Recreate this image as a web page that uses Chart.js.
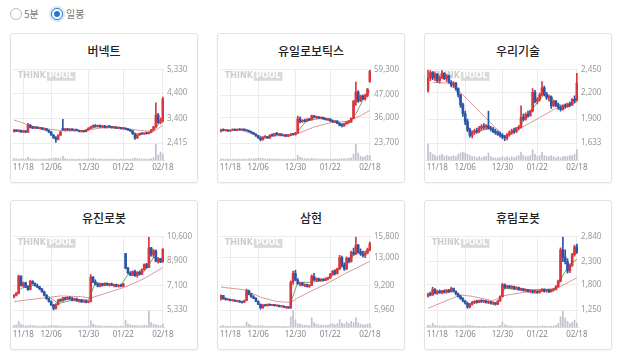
<!DOCTYPE html>
<html>
<head>
<meta charset="utf-8">
<script src="https://cdn.jsdelivr.net/npm/chart.js@4"></script>
<style>
  body { margin:0; width:618px; height:355px; background:#fff; position:relative; overflow:hidden;
         font-family:"Noto Sans CJK KR","Noto Sans",sans-serif; }
  .rd { position:absolute; top:8px; width:10px; height:10px; border-radius:50%; border:1px solid #bdbdbd; background:#fff; }
  .rd.on { border-color:#2a76d2; box-shadow:0 0 0 2px rgba(42,118,210,0.18); }
  .rd.on::after { content:""; position:absolute; left:2px; top:2px; width:6px; height:6px; border-radius:50%; background:#2a76d2; }
  .rl { position:absolute; top:6px; font-size:10px; line-height:16px; color:#777; }
  .card { position:absolute; width:186px; height:148px; border:1px solid #e2e2e2; border-radius:3px;
          box-shadow:0 1px 2px rgba(0,0,0,0.05); background:#fff; }
  .card h3 { position:absolute; top:9px; left:0; width:100%; margin:0; text-align:center;
             font-size:12px; line-height:16px; font-weight:500; color:#222; }
  .card canvas { position:absolute; left:0; top:28px; }
</style>
</head>
<body>
<div class="rd" style="left:10px"></div><div class="rl" style="left:24px">5분</div>
<div class="rd on" style="left:51px"></div><div class="rl" style="left:66px">일봉</div>

<div class="card" style="left:10px;top:33px"><h3>버넥트</h3><canvas id="c1" width="186" height="118"></canvas></div>
<div class="card" style="left:217px;top:33px"><h3>유일로보틱스</h3><canvas id="c2" width="186" height="118"></canvas></div>
<div class="card" style="left:424px;top:33px"><h3>우리기술</h3><canvas id="c3" width="186" height="118"></canvas></div>
<div class="card" style="left:10px;top:200px"><h3>유진로봇</h3><canvas id="c4" width="186" height="118"></canvas></div>
<div class="card" style="left:217px;top:200px"><h3>삼현</h3><canvas id="c5" width="186" height="118"></canvas></div>
<div class="card" style="left:424px;top:200px"><h3>휴림로봇</h3><canvas id="c6" width="186" height="118"></canvas></div>

<script>
// x axis: 65 trading days, dates shown at a few of them
const tickDates = ['11/18', '12/06', '12/30', '01/22', '02/18'];
const tickIndex = [4, 16, 32, 47, 64];
const dayCount = 65;

// candles: [open, high, low, close]
const vnCandles = [
  [2880,2960,2850,2930],[2930,2950,2870,2890],[2890,2940,2860,2920],[2920,2930,2840,2860],[2860,2920,2840,2900],
  [2900,2910,2830,2850],[2850,3200,2840,3130],[3130,3150,3020,3050],[3050,3080,2990,3010],[3010,3070,3000,3050],
  [3050,3060,2990,3000],[3000,3040,2980,3020],[3020,3030,2950,2970],[2970,3000,2930,2980],[2980,2990,2900,2920],
  [2920,2940,2830,2850],[2850,2870,2720,2740],[2740,2760,2600,2620],[2620,2680,2440,2560],[2560,2760,2540,2730],
  [2730,2880,2720,2860],[3000,3360,2920,2940],[2940,2990,2900,2960],[2960,3000,2920,2940],[2940,2980,2900,2970],
  [2970,2990,2920,2930],[2930,2960,2890,2950],[2950,2970,2900,2910],[2910,2930,2860,2880],[2880,2920,2850,2900],
  [2900,2910,2850,2870],[2870,2950,2860,2940],[2940,3020,2930,3010],[3010,3080,2990,3060],[3060,3140,3040,3120],
  [3120,3150,3060,3080],[3080,3130,3050,3110],[3110,3140,3040,3060],[3060,3110,3030,3090],[3090,3120,3020,3040],
  [3040,3100,3020,3080],[3080,3110,3040,3060],[3060,3080,3010,3030],[3030,3070,3000,3050],[3050,3060,2990,3010],
  [3010,3050,2990,3030],[3030,3040,2970,2990],[2990,3030,2960,3000],[3000,3010,2950,2970],[2970,2990,2920,2940],
  [2940,2960,2880,2900],[2900,2910,2760,2790],[2790,2800,2560,2620],[2620,2760,2600,2740],[2740,2820,2720,2800],
  [2800,2840,2760,2780],[2780,2830,2760,2810],[2810,2850,2770,2790],[2790,2860,2780,2840],[2840,2960,2830,2940],
  [2940,3080,2920,3060],[3060,4020,3040,3530],[3530,3600,3200,3250],[3250,3420,3180,3300],[3300,4250,3250,4180]
];
const vnVolume = [
  1.5,1.2,1.0,1.1,1.3,1.0,3.0,1.4,1.0,0.9, 1.0,0.8,0.9,1.0,1.1,1.2,1.5,1.8,2.2,1.6,
  1.4,4.0,1.5,1.0,0.9,0.8,0.9,0.8,0.9,0.8, 0.7,1.0,1.2,1.3,1.5,1.1,1.0,0.9,1.0,0.9,
  0.8,0.9,0.8,0.9,0.8,0.8,0.9,0.8,0.9,0.8, 1.0,1.4,2.0,1.5,1.1,1.0,0.9,0.9,1.0,1.5,
  2.5,16,5,8,6
];
const vnMaLong = [[0,3335],[7,3110],[16,2960],[22,2900],[30,2920],[38,3020],[46,3030],[54,2920],[60,2880],[64,3120]];
const vnMaShort = [[24,2950],[30,2900],[36,3080],[42,3070],[48,3000],[53,2780],[58,2810],[61,3000],[64,3450]];
const vnTicks = [5330, 4400, 3400, 2415];

const yuCandles = [
  [29500,30500,29200,30200],[30200,30600,29600,29800],[29800,30400,29500,30100],[30100,30300,29400,29600],[29600,30200,29300,30000],
  [30000,30500,29700,30300],[30300,30600,29800,29900],[29900,30600,29700,30400],[30400,30800,30000,30100],[30100,30700,29900,30500],
  [30500,30700,29900,30000],[30000,30300,29500,29700],[29700,30000,29100,29300],[29300,29600,28500,28700],[28700,29000,27800,28000],
  [28000,28300,27000,27200],[27200,27500,26000,26300],[26300,26800,24800,25400],[25400,26800,25200,26500],[26500,27400,26100,26800],
  [26800,27000,25900,26200],[26200,27800,26000,27500],[27500,28200,27000,27300],[27300,28600,27100,28300],[28300,28900,27600,27800],
  [27800,28400,27300,28100],[28100,28300,27200,27400],[27400,28000,27000,27700],[27700,27900,26800,27100],[27100,27800,26900,27500],
  [27500,28300,27300,28000],[28000,28500,27600,27800],[27800,28900,27600,28600],[28600,36800,28400,35500],[35500,36500,33500,34200],
  [34200,35200,33800,34800],[34800,35400,34000,34300],[34300,35600,34100,35300],[35300,35800,34600,35000],[35000,37300,34800,36900],
  [36900,37200,35900,36200],[36200,36800,35700,36400],[36400,36700,35600,35800],[35800,36500,35500,36200],[36200,36400,35200,35400],
  [35400,35900,34800,35100],[35100,35700,34600,35400],[35400,35600,34300,34500],[34500,35000,33800,34100],[34100,34700,33600,34400],
  [34400,34600,33100,33300],[33300,33700,32100,32400],[32400,33000,31600,32100],[32100,33400,31900,33100],[33100,34200,32800,33900],
  [33900,34600,33400,34000],[34000,36000,33800,35700],[35700,44500,35500,44000],[44000,53400,42000,48500],[48500,49200,43500,44200],
  [44200,47000,43800,46500],[46500,47200,44800,45200],[45200,47500,44600,46900],[46900,50300,46100,49800],[53600,59300,53200,58600]
];
const yuVolume = [
  1.2,1.0,0.9,1.0,0.8,0.9,1.0,0.8,0.9,0.8, 0.9,1.0,1.1,1.2,1.4,1.5,1.8,2.0,1.5,1.2,
  1.0,1.1,1.0,1.2,0.9,0.8,0.9,0.8,0.8,0.9, 0.8,0.9,1.0,4.5,2.8,2.0,1.5,1.4,1.2,1.6,
  1.3,1.1,1.0,1.0,0.9,1.0,0.9,1.0,0.9,0.9, 1.0,1.2,1.1,1.3,1.5,1.4,2.0,6.0,16,7.0,
  4.0,3.0,3.5,5.0,4.5
];
const yuMaLong = [[8,30100],[18,26800],[26,27400],[33,28400],[40,31500],[47,33600],[54,34300],[60,37000],[64,39600]];
const yuMaShort = [[33,29500],[37,34800],[44,35800],[51,33000],[55,33500],[58,38000],[61,44500],[64,49000]];
const yuTicks = [59300, 47000, 36000, 23700];

const wrCandles = [
  [2220,2450,2200,2360],[2360,2440,2330,2420],[2420,2430,2340,2360],[2360,2420,2330,2400],[2400,2410,2310,2330],
  [2330,2380,2300,2370],[2370,2440,2350,2410],[2410,2420,2340,2350],[2350,2400,2320,2380],[2380,2390,2300,2310],
  [2310,2330,2260,2280],[2280,2320,2250,2300],[2300,2310,2220,2240],[2240,2250,2150,2170],[2170,2180,2030,2060],
  [2060,2080,1930,1960],[1960,1990,1840,1870],[1870,1900,1760,1780],[1780,1800,1700,1720],[1720,1770,1690,1750],
  [1750,1790,1730,1770],[1770,1800,1740,1760],[1760,1820,1750,1800],[1800,1840,1780,1820],[1820,1850,1790,1810],
  [1810,1840,1790,1830],[1830,1990,1790,1800],[1800,1820,1770,1790],[1790,1810,1750,1760],[1760,1790,1730,1750],
  [1750,1770,1720,1730],[1730,1760,1700,1720],[1720,1740,1680,1700],[1700,1720,1660,1690],[1690,1740,1670,1730],
  [1730,1770,1710,1750],[1750,1790,1730,1770],[1770,1800,1740,1760],[1760,1810,1750,1800],[1800,1830,1780,1810],
  [1810,2050,1800,1920],[1920,1960,1880,1900],[1900,1970,1890,1950],[1950,1990,1920,1940],[1940,2000,1930,1990],
  [1990,2240,1980,2200],[2200,2220,2080,2100],[2100,2140,2070,2120],[2120,2190,2100,2170],[2170,2320,2160,2250],
  [2250,2270,2160,2180],[2180,2200,2120,2140],[2140,2170,2100,2150],[2150,2160,2020,2050],[2050,2110,2040,2100],
  [2100,2110,2040,2060],[2060,2080,2010,2030],[2030,2050,1990,2010],[2010,2060,2000,2050],[2050,2070,2020,2040],
  [2040,2080,2030,2070],[2070,2090,2040,2060],[2060,2130,2050,2120],[2120,2160,2080,2100],[2110,2410,2100,2300]
];
const wrVolume = [
  14,7,5,4,3,4,5,3,4,3, 3,4,3,5,6,7,6,5,4,3,
  3,2,3,2,3,3,6,3,2,2, 2,2,3,2,3,2,3,2,3,4,
  7,4,3,3,4,9,5,3,4,7, 4,3,3,4,3,2,3,2,3,3,
  3,4,4,5,9
];
const wrMaLong = [[2,2310],[10,2300],[33,1700],[55,2020],[64,2090]];
const wrMaShort = [[12,2240],[18,1760],[22,1770],[27,1800],[33,1700],[38,1790],[42,1910],[46,2050],[50,2180],[53,2140],[56,2060],[60,2050],[64,2140]];
const wrTicks = [2450, 2200, 1900, 1633];

const yjCandles = [
  [6300,6450,6200,6400],[6400,6600,6350,6550],[6550,7850,6500,7780],[7780,7800,7050,7100],[7100,7350,7000,7300],
  [7300,7340,6950,7000],[7000,7100,6750,6800],[6800,7480,6780,7400],[7400,7460,7200,7250],[7250,7300,7050,7100],
  [7100,7200,6950,7000],[7000,7050,6800,6850],[6850,6900,6600,6650],[6650,6700,6350,6400],[6400,6450,6100,6150],
  [6150,6200,5900,5950],[5950,6000,5650,5700],[5700,5750,5350,5450],[5450,5800,5400,5750],[5750,6100,5700,6050],
  [6050,6150,5950,6000],[6000,6250,5980,6200],[6200,6250,6050,6100],[6100,6300,6080,6250],[6250,6300,6100,6150],
  [6150,6250,6000,6050],[6050,6200,6000,6150],[6150,6200,5950,6000],[6000,6100,5900,6050],[6050,6100,5880,5920],
  [5920,6050,5880,6000],[6000,6050,5850,5900],[5900,6000,5850,5950],[5950,7880,5920,7700],[7700,7750,7300,7350],
  [7350,7500,7150,7200],[7200,7300,7000,7050],[7050,7250,7000,7200],[7200,7260,7050,7100],[7100,7300,7080,7250],
  [7250,7300,7100,7150],[7150,7250,7050,7200],[7200,7280,7080,7100],[7100,7200,7000,7150],[7150,7200,7000,7050],
  [7050,7150,6980,7100],[7100,7200,7000,7050],[7050,7250,7020,7200],[9400,9420,8300,8350],[8350,8400,7950,8000],
  [8000,8100,7800,7850],[7850,8150,7800,8100],[8100,8200,7750,7800],[7800,8100,7700,8050],[8050,8150,7850,7900],
  [7900,8300,7880,8250],[8250,8650,8200,8600],[8600,8700,8350,8400],[8400,10600,8380,9800],[9800,9850,9200,9300],
  [9300,9700,9100,9600],[9600,9650,8800,8850],[8850,9100,8700,9000],[9000,9050,8750,8800],[8800,9750,8780,9700]
];
const yjVolume = [
  1.5,2.0,5.0,2.5,1.5,1.2,1.0,2.0,1.2,1.0, 0.9,0.8,0.9,1.0,1.0,1.1,1.2,1.5,1.3,1.1,
  0.9,0.8,0.8,0.7,0.8,0.7,0.7,0.8,0.7,0.8, 0.7,0.8,0.9,5.5,2.5,1.5,1.2,1.0,0.9,0.9,
  0.8,0.8,0.9,0.8,0.8,0.7,0.8,0.9,6.0,2.5, 1.8,1.5,1.3,1.2,1.1,1.3,1.8,1.5,14,4.0,
  2.5,2.0,1.5,1.2,2.5
];
const yjMaLong = [[0,5950],[20,6350],[29,6300],[33,6200],[48,7000],[56,7600],[64,8400]];
const yjMaShort = [[0,6350],[3,6900],[9,7150],[15,6300],[19,5800],[26,6100],[32,6050],[35,7300],[46,7120],[49,7900],[56,8100],[60,9100],[64,9000]];
const yjTicks = [10600, 8900, 7100, 5330];

const shCandles = [
  [7500,8000,7300,7900],[7900,7950,7400,7500],[7500,7600,7300,7350],[7350,7500,7250,7400],[7400,7450,7200,7250],
  [7250,7350,7150,7300],[7300,7350,7100,7150],[7150,7250,7050,7200],[7200,7250,7000,7050],[7050,7150,6900,7000],
  [7000,7300,6950,7250],[7250,8800,7200,8600],[8600,8650,8000,8100],[8100,8200,7700,7750],[7750,7900,7500,7550],
  [7550,7650,7100,7150],[7150,7200,6700,6750],[6750,6800,6100,6300],[6300,6700,6200,6650],[6650,6750,6500,6550],
  [6550,6800,6500,6750],[6750,6800,6550,6600],[6600,6750,6550,6700],[6700,6750,6500,6550],[6550,6650,6450,6600],
  [6600,6650,6400,6450],[6450,6550,6350,6500],[6500,6550,6300,6350],[6350,6450,6200,6400],[6400,6450,6200,6250],
  [6250,9900,6200,9700],[9700,11200,9400,10900],[10900,11300,9900,10000],[10000,10200,9400,9500],[9500,9700,9200,9600],
  [9600,9700,9200,9300],[9300,9500,9100,9400],[9400,9450,9050,9150],[9150,9400,9000,9300],[9300,10700,9250,10500],
  [10500,10900,9900,10000],[10000,10300,9800,10200],[10200,10250,9800,9900],[9900,10200,9800,10100],[10100,10200,9850,9950],
  [9950,10300,9900,10200],[10200,10400,10000,10300],[10300,10900,10200,10800],[10800,11300,10600,11200],[11200,11400,10700,10900],
  [10900,11600,10800,11500],[11500,13300,11400,13000],[13000,13200,11800,12000],[12000,12300,11300,11500],[11500,13100,11400,12900],
  [12900,13000,12300,12500],[12500,13900,12400,13700],[13700,14300,13300,13500],[13500,15800,13400,14700],[14700,14800,13600,13800],
  [13800,14200,13300,13500],[13500,13900,13100,13300],[13300,13800,13000,13600],[13600,14300,13500,14100],[14100,15100,13900,14900]
];
const shVolume = [
  1.0,1.2,0.8,0.7,0.7,0.6,0.6,0.7,0.6,0.6, 0.8,4.5,2.5,1.5,1.0,0.9,1.0,1.2,1.0,0.8,
  0.7,0.6,0.7,0.6,0.6,0.6,0.5,0.6,0.6,0.6, 9.0,14,6.0,3.0,2.5,2.0,1.5,1.5,1.2,8.0,
  4.0,2.5,2.0,1.8,1.5,1.5,1.8,2.5,3.0,2.0, 3.0,6.5,3.5,2.5,4.5,3.0,5.0,4.0,8.0,4.0,
  2.5,2.0,2.0,2.5,3.0
];
const shMaLong = [[0,9050],[10,8700],[17,7700],[24,7100],[30,7000],[33,7600],[40,8700],[46,9600],[53,10800],[64,12500]];
const shMaShort = [[30,7000],[33,9700],[39,9700],[46,10100],[53,12000],[58,13600],[64,14000]];
const shTicks = [15800, 13000, 9200, 5960];

const hrCandles = [
  [1560,1620,1530,1600],[1600,1640,1560,1580],[1580,1750,1570,1700],[1700,1720,1600,1620],[1620,1680,1590,1660],
  [1660,1690,1610,1630],[1630,1680,1600,1670],[1670,1690,1620,1640],[1640,1700,1620,1680],[1680,1700,1630,1650],
  [1650,1750,1640,1720],[1720,1730,1640,1660],[1660,1670,1580,1600],[1600,1620,1530,1550],[1550,1570,1480,1500],
  [1500,1520,1430,1450],[1450,1460,1380,1400],[1400,1420,1290,1320],[1320,1400,1300,1380],[1380,1440,1360,1420],
  [1420,1460,1390,1440],[1440,1470,1400,1420],[1420,1470,1410,1460],[1460,1480,1420,1440],[1440,1470,1410,1450],
  [1450,1460,1400,1420],[1420,1450,1390,1430],[1430,1440,1380,1400],[1400,1430,1370,1410],[1410,1420,1360,1380],
  [1380,1460,1370,1450],[1450,1560,1440,1540],[1540,1830,1530,1800],[1800,1820,1720,1740],[1740,1790,1720,1770],
  [1770,1790,1720,1740],[1740,1780,1710,1760],[1760,1770,1700,1720],[1720,1760,1700,1740],[1740,1750,1680,1700],
  [1700,1730,1670,1710],[1710,1720,1660,1680],[1680,1710,1650,1690],[1690,1700,1640,1660],[1660,1690,1630,1670],
  [1670,1680,1620,1640],[1640,1680,1620,1660],[1660,1670,1610,1630],[1630,1680,1620,1670],[1670,1720,1650,1700],
  [1700,1710,1640,1660],[1660,1700,1640,1690],[1690,1700,1630,1650],[1650,1700,1640,1690],[1690,1720,1660,1700],
  [1700,1780,1690,1760],[1760,1900,1740,1880],[1880,2600,1860,2560],[2560,2840,2300,2400],[2400,2560,2250,2300],
  [2300,2360,2050,2100],[2100,2250,2060,2220],[2220,2480,2200,2450],[2450,2660,2420,2620],[2620,2680,2480,2520]
];
const hrVolume = [
  1.5,1.2,3.5,1.5,1.0,1.0,0.9,1.0,0.9,0.8, 1.2,1.0,0.8,0.8,0.9,1.0,1.1,1.4,1.2,1.0,
  0.8,0.7,0.7,0.6,0.7,0.6,0.6,0.6,0.6,0.6, 0.8,1.5,4.5,2.0,1.2,1.0,0.9,0.8,0.8,0.7,
  0.7,0.7,0.7,0.6,0.6,0.6,0.6,0.6,0.7,1.0, 0.8,0.7,0.7,0.8,0.9,1.5,3.0,9.0,14,8.0,
  5.0,3.0,4.0,6.0,3.5
];
const hrMaLong = [[0,1290],[14,1580],[19,1550],[28,1450],[32,1560],[42,1640],[55,1710],[64,1950]];
const hrMaShort = [[30,1430],[33,1720],[42,1690],[55,1710],[58,2000],[61,2250],[64,2350]];
const hrTicks = [2840, 2300, 1800, 1250];

const UP = '#d9363e', DOWN = '#2b55a8', MA_LONG = '#d99a9a', MA_SHORT = '#6aaa70', VOL = '#bfc2cf';

const dayLabels = new Array(dayCount).fill('');
tickIndex.forEach((i, k) => { dayLabels[i] = tickDates[k]; });

function spread(pairs) {
  const arr = new Array(dayCount).fill(null);
  pairs.forEach(([i, v]) => { arr[i] = v; });
  return arr;
}

const watermark = {
  id: 'watermark',
  beforeDatasetsDraw(chart) {
    const { ctx, chartArea } = chart;
    const x = chartArea.left + 5, y = chartArea.top + 6;
    ctx.save();
    ctx.font = 'bold 8px "DejaVu Sans"';
    ctx.textBaseline = 'middle';
    ctx.fillStyle = '#cdcdcd';
    ctx.fillText('THINK', x, y);
    const w = ctx.measureText('THINK').width;
    const w2 = ctx.measureText('POOL').width;
    ctx.fillStyle = '#dadada';
    ctx.fillRect(x + w + 1, y - 4, w2 + 4, 9);
    ctx.fillStyle = '#fff';
    ctx.fillText('POOL', x + w + 3, y + 0.5);
    ctx.restore();
  }
};

function drawCard(id, candles, volume, maLong, maShort, ticks) {
  const ctx = document.getElementById(id).getContext('2d');
  const hi = ticks[0], lo = ticks[ticks.length - 1];
  const colors = candles.map(k => k[3] >= k[0] ? UP : DOWN);

  new Chart(ctx, {
    type: 'bar',
    data: {
      labels: dayLabels,
      datasets: [
        { data: candles.map(k => [k[2], k[1]]), backgroundColor: colors, barThickness: 1, grouped: false, order: 0 },
        { data: candles.map(k => [k[0], k[3]]), backgroundColor: colors, barThickness: 2, minBarLength: 1, grouped: false, order: 0 },
        { type: 'line', data: spread(maShort), borderColor: MA_SHORT, borderWidth: 1, pointRadius: 0, spanGaps: true, order: 1 },
        { type: 'line', data: spread(maLong), borderColor: MA_LONG, borderWidth: 1, pointRadius: 0, spanGaps: true, order: 1 },
        { data: volume, yAxisID: 'yv', backgroundColor: VOL, barThickness: 1, grouped: false, order: 2 }
      ]
    },
    options: {
      responsive: false,
      animation: false,
      devicePixelRatio: 1,
      layout: { padding: { left: 1, top: 7 } },
      plugins: { legend: { display: false }, tooltip: { enabled: false } },
      scales: {
        x: {
          grid: {
            offset: false,
            drawTicks: false,
            color: c => dayLabels[c.index] ? '#ececec' : 'rgba(0,0,0,0)'
          },
          border: { color: '#dcdcdc' },
          ticks: {
            autoSkip: false, maxRotation: 0, padding: 3,
            color: '#888', font: { size: 8, family: 'Noto Sans' },
            callback: (v, i) => dayLabels[i]
          },
          afterFit: s => { s.height = 20; }
        },
        y: {
          position: 'right',
          min: lo - (hi - lo) * 17 / 74,
          max: hi,
          afterBuildTicks: s => { s.ticks = ticks.map(v => ({ value: v })); },
          grid: { color: '#ececec', drawTicks: false },
          border: { display: false },
          ticks: {
            padding: 3, color: '#999', font: { size: 8, family: 'Noto Sans' },
            callback: v => v.toLocaleString('en-US')
          },
          afterFit: s => { s.width = 33; }
        },
        yv: { display: false, min: 0, max: Math.max(...volume) * 91 / 16 }
      }
    },
    plugins: [watermark]
  });
}

drawCard('c1', vnCandles, vnVolume, vnMaLong, vnMaShort, vnTicks);
drawCard('c2', yuCandles, yuVolume, yuMaLong, yuMaShort, yuTicks);
drawCard('c3', wrCandles, wrVolume, wrMaLong, wrMaShort, wrTicks);
drawCard('c4', yjCandles, yjVolume, yjMaLong, yjMaShort, yjTicks);
drawCard('c5', shCandles, shVolume, shMaLong, shMaShort, shTicks);
drawCard('c6', hrCandles, hrVolume, hrMaLong, hrMaShort, hrTicks);
</script>
</body>
</html>
